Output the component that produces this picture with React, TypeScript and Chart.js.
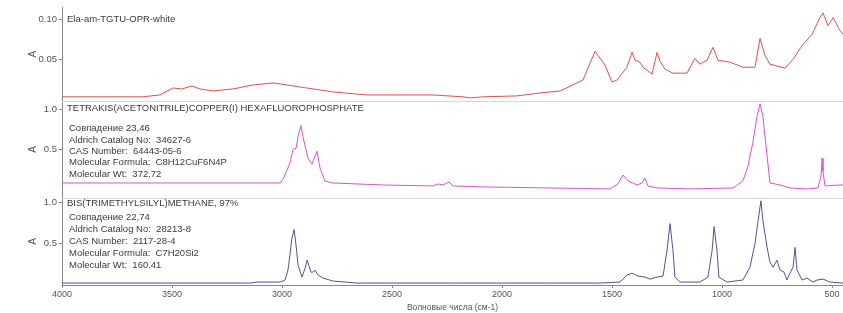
import React, { useEffect, useRef } from "react";
import { Chart, registerables } from "chart.js";

Chart.register(...registerables);

// ---------- data ----------
const xTickValues = [4000, 3500, 3000, 2500, 2000, 1500, 1000, 500];
const xAxisTitle = "Волновые числа (см-1)";
const yAxisTitle = "A";

const sampleName = "Ela-am-TGTU-OPR-white";
const sampleTicks = [0.05, 0.1];
const sampleWn = [4000, 3827, 3632, 3555, 3495, 3455, 3409, 3373, 3314, 3223, 3132, 3041, 2977, 2918, 2768, 2614, 2464, 2314, 2177, 2145, 2086, 1932, 1827, 1736, 1632, 1577, 1532, 1500, 1477, 1432, 1409, 1395, 1373, 1359, 1318, 1295, 1282, 1259, 1223, 1159, 1123, 1100, 1068, 1041, 1018, 964, 905, 850, 827, 805, 782, 714, 677, 632, 591, 555, 541, 518, 495, 464, 450];
const sampleAbs = [0.003, 0.003, 0.003, 0.0053, 0.014, 0.0128, 0.0166, 0.0128, 0.0103, 0.0128, 0.0178, 0.0203, 0.0178, 0.0153, 0.0091, 0.0053, 0.0053, 0.0053, 0.003, 0.0016, 0.003, 0.0041, 0.0078, 0.0103, 0.024, 0.06, 0.0426, 0.0215, 0.024, 0.04, 0.0587, 0.0488, 0.0463, 0.04, 0.0314, 0.0587, 0.0475, 0.0376, 0.0326, 0.0326, 0.0512, 0.0438, 0.0488, 0.0649, 0.0488, 0.0463, 0.04, 0.04, 0.076, 0.055, 0.0438, 0.0388, 0.05, 0.0686, 0.081, 0.102, 0.108, 0.092, 0.102, 0.086, 0.081];

const ref1Name = "TETRAKIS(ACETONITRILE)COPPER(I) HEXAFLUOROPHOSPHATE";
const ref1Info = [
  "Совпадение 23,46",
  "Aldrich Catalog No:  34627-6",
  "CAS Number:  64443-05-6",
  "Molecular Formula:  C8H12CuF6N4P",
  "Molecular Wt:  372.72",
];
const refTicks = [0.5, 1.0];
const ref1Wn = [4000, 3600, 3145, 3009, 2995, 2964, 2950, 2936, 2927, 2914, 2905, 2882, 2864, 2841, 2827, 2805, 2768, 2541, 2314, 2291, 2268, 2241, 2223, 2086, 1782, 1509, 1473, 1450, 1427, 1386, 1364, 1350, 1336, 1295, 1145, 950, 905, 882, 859, 841, 827, 814, 795, 782, 736, 691, 614, 564, 550, 545, 541, 532, 464, 450];
const ref1Abs = [0.085, 0.085, 0.085, 0.085, 0.134, 0.331, 0.504, 0.516, 0.664, 0.799, 0.664, 0.393, 0.319, 0.479, 0.27, 0.11, 0.085, 0.06, 0.048, 0.073, 0.06, 0.097, 0.048, 0.036, 0.023, 0.011, 0.073, 0.183, 0.11, 0.06, 0.085, 0.147, 0.048, 0.023, 0.011, 0.023, 0.11, 0.295, 0.6, 0.91, 1.07, 0.91, 0.418, 0.085, 0.06, 0.023, 0.011, 0.023, 0.17, 0.393, 0.23, 0.048, 0.06, 0.06];

const ref2Name = "BIS(TRIMETHYLSILYL)METHANE, 97%";
const ref2Info = [
  "Совпадение 22,74",
  "Aldrich Catalog No:  28213-8",
  "CAS Number:  2117-28-4",
  "Molecular Formula:  C7H20Si2",
  "Molecular Wt:  160.41",
];
const ref2Wn = [4000, 3600, 3145, 3114, 3009, 2986, 2973, 2964, 2955, 2945, 2936, 2927, 2909, 2895, 2886, 2877, 2868, 2859, 2850, 2836, 2814, 2768, 2659, 2236, 1782, 1555, 1464, 1432, 1409, 1382, 1350, 1327, 1295, 1268, 1250, 1236, 1223, 1214, 1191, 1100, 1064, 1045, 1036, 1023, 1014, 977, 905, 873, 850, 836, 823, 814, 795, 782, 768, 750, 736, 718, 705, 691, 677, 668, 659, 636, 614, 586, 568, 541, 509, 450];
const ref2Abs = [0.012, 0.012, 0.012, 0.024, 0.024, 0.049, 0.171, 0.354, 0.561, 0.671, 0.476, 0.232, 0.085, 0.195, 0.293, 0.22, 0.146, 0.146, 0.171, 0.11, 0.073, 0.037, 0.012, 0.012, 0.012, 0.012, 0.024, 0.11, 0.134, 0.098, 0.085, 0.061, 0.085, 0.098, 0.415, 0.744, 0.415, 0.085, 0.024, 0.024, 0.085, 0.415, 0.707, 0.415, 0.085, 0.024, 0.049, 0.207, 0.5, 0.78, 1.024, 0.78, 0.451, 0.268, 0.207, 0.293, 0.171, 0.146, 0.049, 0.134, 0.207, 0.451, 0.171, 0.049, 0.073, 0.024, 0.049, 0.061, 0.024, 0.012];

// ---------- styling ----------
const FONT = '"Liberation Sans", Arial, sans-serif';

const toPoints = (xs: number[], ys: number[]) => xs.map((x, i) => ({ x, y: ys[i] }));

const annotationPlugin = {
  id: "panelText",
  afterDatasetsDraw(chart: any) {
    const ctx = chart.ctx;
    const { left, right } = chart.chartArea;
    const yT = chart.scales.yT;
    const yM = chart.scales.yM;
    const yB = chart.scales.yB;
    ctx.save();
    ctx.strokeStyle = "#d6d6d6";
    ctx.lineWidth = 1;
    [yT.bottom, yM.bottom].forEach((y: number) => {
      const yy = Math.round(y) + 0.5;
      ctx.beginPath();
      ctx.moveTo(left, yy);
      ctx.lineTo(right, yy);
      ctx.stroke();
    });
    ctx.fillStyle = "#3a3a3a";
    ctx.textBaseline = "middle";
    ctx.textAlign = "left";
    ctx.font = `9.5px ${FONT}`;
    ctx.fillText(sampleName, left + 5, yT.top + 12);
    ctx.fillText(ref1Name, left + 5, yM.top + 8);
    ref1Info.forEach((t, i) => ctx.fillText(t, left + 7, yM.top + 28 + i * 11.3));
    ctx.fillText(ref2Name, left + 5, yB.top + 6);
    ref2Info.forEach((t, i) => ctx.fillText(t, left + 7, yB.top + 20 + i * 12));
    ctx.restore();
  },
};

const yScale = (weight: number, min: number, max: number, ticks: number[], digits: number) => ({
  type: "linear",
  position: "left",
  stack: "spec",
  stackWeight: weight,
  min,
  max,
  afterBuildTicks: (s: any) => {
    s.ticks = ticks.map((v) => ({ value: v }));
  },
  afterFit: (s: any) => {
    s.width = 62;
  },
  ticks: {
    color: "#555",
    font: { family: FONT, size: 9.5 },
    padding: 2,
    callback: (v: any) => Number(v).toFixed(digits),
  },
  grid: { display: true, drawOnChartArea: false, drawTicks: true, tickLength: 3, color: "#888" },
  border: { display: true, color: "#888" },
  title: {
    display: true,
    text: yAxisTitle,
    color: "#555",
    font: { family: FONT, size: 10 },
    padding: { top: 27, bottom: 0 },
  },
});

export default function App() {
  const canvasRef = useRef<HTMLCanvasElement | null>(null);

  useEffect(() => {
    if (!canvasRef.current) return;
    const chart = new Chart(canvasRef.current, {
      type: "line",
      data: {
        datasets: [
          {
            label: ref2Name,
            data: toPoints(ref2Wn, ref2Abs),
            yAxisID: "yB",
            borderColor: "#525299",
            borderWidth: 1,
            pointRadius: 0,
            tension: 0,
          },
          {
            label: ref1Name,
            data: toPoints(ref1Wn, ref1Abs),
            yAxisID: "yM",
            borderColor: "#dc4fdc",
            borderWidth: 1,
            pointRadius: 0,
            tension: 0,
          },
          {
            label: sampleName,
            data: toPoints(sampleWn, sampleAbs),
            yAxisID: "yT",
            borderColor: "#e0504c",
            borderWidth: 1,
            pointRadius: 0,
            tension: 0,
          },
        ],
      },
      options: {
        animation: false,
        responsive: true,
        maintainAspectRatio: false,
        layout: { padding: { top: 5, left: 0, right: 0, bottom: 0 } },
        plugins: { legend: { display: false }, tooltip: { enabled: false } },
        scales: {
          x: {
            type: "linear",
            reverse: true,
            min: 450,
            max: 4000,
            afterBuildTicks: (s: any) => {
              s.ticks = xTickValues.map((v) => ({ value: v }));
            },
            afterFit: (s: any) => {
              s.height = 28;
            },
            ticks: {
              includeBounds: false,
              color: "#555",
              font: { family: FONT, size: 9 },
              padding: 1,
              maxRotation: 0,
              autoSkip: false,
              callback: (v: any) => String(v),
            },
            grid: { display: true, drawOnChartArea: false, drawTicks: true, tickLength: 3, color: "#888" },
            border: { display: true, color: "#888" },
            title: {
              display: true,
              text: xAxisTitle,
              color: "#555",
              font: { family: FONT, size: 8.5 },
              padding: { top: 0, bottom: 0 },
            },
          },
          yB: yScale(88, -0.012, 1.061, refTicks, 1),
          yM: yScale(98, -0.1, 1.107, refTicks, 1),
          yT: yScale(94, -0.002, 0.1145, sampleTicks, 2),
        } as any,
      },
      plugins: [annotationPlugin],
    } as any);
    return () => chart.destroy();
  }, []);

  return (
    <div style={{ position: "fixed", left: 0, top: 0, width: 843, height: 313, background: "#fff" }}>
      <canvas ref={canvasRef} />
    </div>
  );
}
